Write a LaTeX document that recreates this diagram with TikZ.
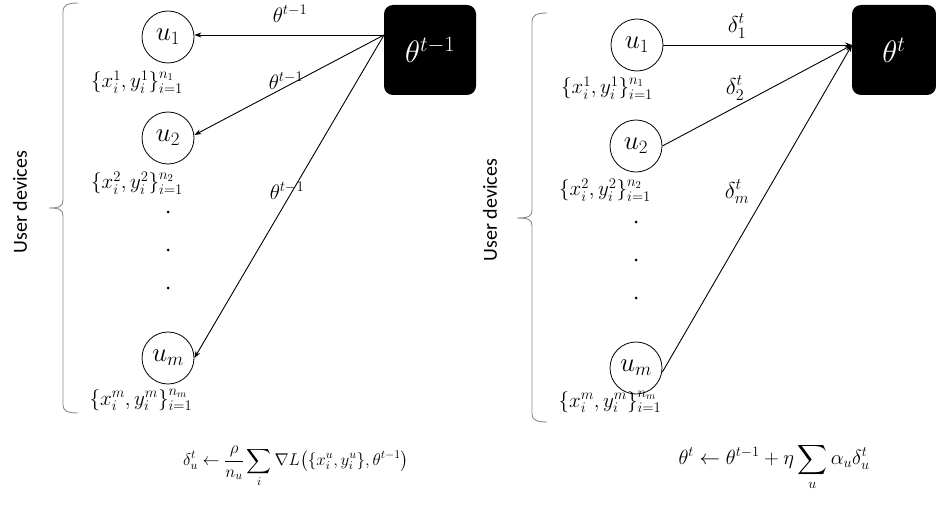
\RequirePackage{fix-cm}
\documentclass[tikz,border=0pt]{standalone}
\usepackage{exscale}
\usepackage{fontspec}
\newfontfamily\sidefont{Carlito}
\usetikzlibrary{arrows.meta}
\begin{document}
\begin{tikzpicture}[x=1pt,y=-1pt,
  dev/.style={circle,draw,line width=0.8pt,minimum size=52pt,inner sep=0pt,font=\fontsize{27}{30}\selectfont},
  srv/.style={fill=black,rounded corners=9pt,text=white,font=\fontsize{31}{34}\selectfont,inner sep=0pt},
  dat/.style={font=\fontsize{21}{24}\selectfont,inner sep=0pt},
  lbl/.style={font=\fontsize{21}{24}\selectfont,inner sep=0pt},
  dlbl/.style={font=\fontsize{23}{26}\selectfont,inner sep=0pt},
  frmL/.style={font=\fontsize{17}{21}\selectfont,inner sep=0pt},
  frmR/.style={font=\fontsize{20.5}{24}\selectfont,inner sep=0pt},
  arr/.style={-{Stealth[length=7pt,width=5pt]},line width=0.9pt},
  brc/.style={draw=black!45,line width=0.9pt},
  dotm/.style={circle,fill=black,inner sep=0pt,minimum size=3pt},
  side/.style={font=\sidefont\fontsize{20}{23}\selectfont,rotate=90}]
\useasboundingbox (0,0) rectangle (936,505);
% ---------- left panel ----------
\node[side] (userL) at (20,202) {User devices};
\draw[brc] (78,3) .. controls (68,3) and (63,5) .. (63,12) -- (63,200)
  .. controls (63,206) and (60,208) .. (49,208)
  .. controls (60,208) and (63,210) .. (63,216) -- (63,405)
  .. controls (63,411) and (68,413) .. (78,413);
\node[srv,minimum width=92pt,minimum height=90pt] (A) at (430,50) {$\theta^{t-1}$};
\coordinate (As) at (384,35);
\node[dev] (u1) at (168,37) {$u_1$};
\node[dev] (u2) at (168,138) {$u_2$};
\node[dev] (um) at (168,358) {$u_m$};
\node[dat] (d1) at (137,82) {$\{x_i^1,y_i^1\}_{i=1}^{n_1}$};
\node[dat] (d2) at (137,183) {$\{x_i^2,y_i^2\}_{i=1}^{n_2}$};
\node[dat] (dm) at (141,400) {$\{x_i^m,y_i^m\}_{i=1}^{n_m}$};
\node[dotm] (p1) at (168,212) {};
\node[dotm] (p2) at (168,250) {};
\node[dotm] (p3) at (168,288) {};
\draw[arr] (As) -- (u1.east |- As);
\draw[arr] (As) -- ([yshift=3pt]u2.east);
\draw[arr] (As) -- (um.east);
\node[lbl] (l1) at (290,14) {$\theta^{t-1}$};
\node[lbl] (l2) at (286,81) {$\theta^{t-1}$};
\node[lbl] (l3) at (287,191) {$\theta^{t-1}$};
\node[frmL] (fL) at (296,467)
  {$\displaystyle\delta_u^t \leftarrow \frac{\rho}{n_u}\sum_i \nabla L\bigl(\{x_i^u,y_i^u\},\theta^{t-1}\bigr)$};
% ---------- right panel ----------
\node[side] (userR) at (490,210) {User devices};
\draw[brc] (547,13) .. controls (537,13) and (532,15) .. (532,22) -- (532,210)
  .. controls (532,216) and (529,218) .. (517,218)
  .. controls (529,218) and (532,220) .. (532,226) -- (532,414)
  .. controls (532,420) and (537,422) .. (547,422);
\node[srv,minimum width=84pt,minimum height=90pt] (B) at (894,50) {$\theta^{t}$};
\coordinate (Bs) at (852,45);
\node[dev] (v1) at (637,45) {$u_1$};
\node[dev] (v2) at (636,146) {$u_2$};
\node[dev] (vm) at (636,368) {$u_m$};
\node[dat] (e1) at (607,88) {$\{x_i^1,y_i^1\}_{i=1}^{n_1}$};
\node[dat] (e2) at (605,190) {$\{x_i^2,y_i^2\}_{i=1}^{n_2}$};
\node[dat] (em) at (610,402) {$\{x_i^m,y_i^m\}_{i=1}^{n_m}$};
\node[dotm] (q1) at (636,222) {};
\node[dotm] (q2) at (636,260) {};
\node[dotm] (q3) at (636,298) {};
\draw[arr] (v1.east) -- (Bs);
\draw[arr] (v2.east) -- (Bs);
\draw[arr] ([yshift=-4pt]vm.east) -- (Bs);
\node[dlbl] (k1) at (737,26) {$\delta_1^t$};
\node[dlbl] (k2) at (735,88) {$\delta_2^t$};
\node[dlbl] (km) at (737,192) {$\delta_m^t$};
\node[frmR] (fR) at (774,467)
  {$\displaystyle\theta^t \leftarrow \theta^{t-1} + \eta\sum_u \alpha_u\delta_u^t$};
\end{tikzpicture}
\end{document}
